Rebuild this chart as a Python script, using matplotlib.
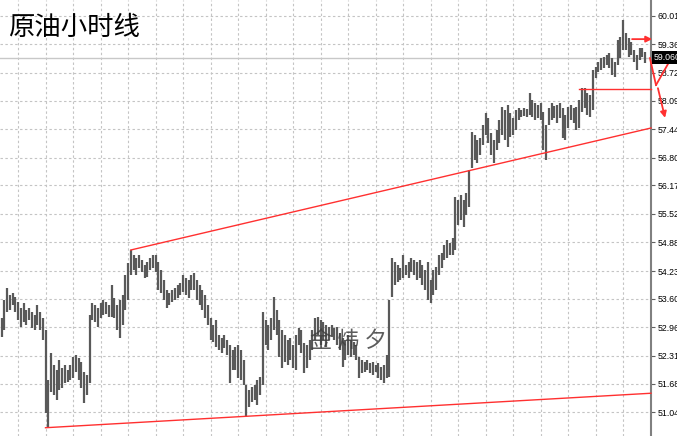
import matplotlib
matplotlib.use("Agg")
import matplotlib.pyplot as plt
import matplotlib.transforms as mtransforms

# ---------------- data (hourly crude oil bars) ----------------
HIGH = [53.17, 53.58, 53.85, 53.69, 53.74, 53.65, 53.54, 53.40, 53.51, 53.35,
        53.40, 53.31, 53.24, 53.47, 53.31, 53.17, 52.90, 51.77, 52.38, 52.11,
        52.00, 52.22, 52.04, 52.11, 52.00, 52.11, 52.29, 52.34, 52.27, 52.18,
        51.95, 51.88, 53.24, 53.51, 53.47, 53.40, 53.51, 53.58, 53.54, 53.47,
        53.92, 53.63, 53.47, 53.58, 53.69, 54.15, 54.42, 54.71, 54.60, 54.53,
        54.60, 54.49, 54.37, 54.44, 54.53, 54.60, 54.60, 54.44, 54.26, 54.03,
        53.81, 53.74, 53.81, 53.85, 53.92, 53.97, 54.15, 54.08, 54.03, 54.15,
        54.19, 54.03, 53.92, 53.81, 53.69, 53.47, 53.17, 53.01, 53.13, 52.79,
        52.72, 52.79, 52.68, 52.56, 52.45, 52.52, 52.56, 52.45, 52.22, 51.66,
        51.54, 51.61, 51.66, 51.77, 51.84, 53.31, 53.13, 53.01, 53.17, 53.65,
        53.35, 53.13, 52.90, 52.79, 52.68, 52.72, 52.56, 52.79, 52.95, 52.90,
        52.61, 52.56, 52.68, 52.90, 53.17, 53.20, 53.13, 53.08, 53.01, 52.97,
        53.01, 52.95, 52.97, 52.83, 52.72, 52.68, 52.79, 52.68, 52.63, 52.56,
        52.29, 52.22, 52.18, 52.22, 52.16, 52.18, 52.11, 52.16, 52.06, 52.11,
        52.34, 53.58, 54.53, 54.44, 54.37, 54.30, 54.60, 54.37, 54.44, 54.53,
        54.49, 54.44, 54.49, 54.37, 54.26, 54.44, 54.03, 54.26, 54.33, 54.60,
        54.64, 54.82, 54.94, 54.87, 54.98, 55.91, 55.84, 55.96, 55.84, 56.00,
        56.52, 57.38, 57.31, 57.20, 57.24, 57.54, 57.81, 57.70, 57.36, 57.20,
        57.43, 57.65, 57.95, 57.88, 57.99, 57.81, 57.70, 57.88, 57.92, 57.88,
        57.92, 57.90, 58.26, 58.10, 58.04, 57.99, 58.04, 57.83, 57.54, 57.92,
        58.04, 57.97, 57.99, 58.04, 57.92, 57.77, 57.95, 57.99, 57.92, 57.95,
        58.10, 58.38, 58.38, 58.26, 58.22, 58.78, 58.85, 58.96, 59.05, 59.08,
        59.12, 59.17, 59.05, 58.96, 59.46, 59.53, 59.91, 59.62, 59.51, 59.42,
        59.24, 59.12, 59.28, 59.28, 59.19]

LOW = [52.74, 52.90, 53.31, 53.35, 53.47, 53.31, 53.13, 52.97, 53.08, 53.01,
       53.13, 52.95, 52.90, 53.01, 52.90, 52.68, 51.02, 50.69, 51.50, 51.43,
       51.32, 51.54, 51.59, 51.70, 51.73, 51.77, 51.82, 51.95, 51.77, 51.59,
       51.25, 51.43, 51.70, 53.13, 53.08, 52.97, 53.17, 53.24, 53.26, 53.20,
       53.20, 53.17, 52.90, 52.72, 53.01, 53.35, 53.58, 54.15, 54.26, 54.15,
       54.30, 54.21, 54.08, 54.10, 54.26, 54.30, 54.21, 53.81, 53.74, 53.58,
       53.40, 53.47, 53.54, 53.58, 53.63, 53.69, 53.76, 53.69, 53.63, 53.81,
       53.81, 53.58, 53.47, 53.35, 53.17, 53.01, 52.68, 52.63, 52.52, 52.45,
       52.38, 52.49, 52.34, 51.70, 52.00, 52.00, 51.82, 51.77, 51.66, 50.93,
       51.16, 51.27, 51.32, 51.21, 51.43, 51.66, 52.56, 52.45, 52.68, 52.90,
       52.79, 52.29, 52.04, 52.18, 52.11, 52.22, 52.04, 52.00, 52.56, 52.38,
       51.93, 52.04, 52.22, 52.45, 52.68, 52.79, 52.56, 52.68, 52.52, 52.68,
       52.74, 52.68, 52.56, 52.45, 52.06, 52.22, 52.34, 52.29, 52.34, 52.22,
       51.82, 51.93, 51.95, 52.00, 51.93, 51.88, 51.95, 51.82, 51.77, 51.70,
       51.82, 51.84, 53.65, 53.92, 53.99, 54.03, 54.08, 54.15, 54.08, 54.21,
       54.15, 54.03, 54.08, 53.92, 53.81, 53.58, 53.51, 53.69, 53.81, 54.15,
       54.30, 54.49, 54.53, 54.60, 54.60, 54.71, 55.28, 55.39, 55.23, 55.50,
       55.68, 56.57, 56.75, 56.68, 56.86, 57.09, 57.31, 57.13, 56.86, 56.68,
       56.97, 57.13, 57.31, 57.20, 57.04, 57.27, 57.31, 57.43, 57.65, 57.72,
       57.74, 57.72, 57.77, 57.72, 57.65, 57.70, 57.65, 56.97, 56.75, 57.54,
       57.65, 57.70, 57.58, 57.70, 57.24, 57.20, 57.47, 57.65, 57.58, 57.43,
       57.47, 57.83, 57.92, 57.77, 57.72, 57.88, 58.60, 58.74, 58.78, 58.83,
       58.90, 58.83, 58.67, 58.62, 58.90, 59.05, 59.24, 59.24, 59.08, 59.12,
       58.96, 58.78, 59.01, 59.08, 58.94]

PRICE_TICKS = ["60.010", "59.365", "58.720", "58.090", "57.445", "56.800",
               "56.170", "55.525", "54.880", "54.235", "53.605", "52.960",
               "52.315", "51.685", "51.040"]
CURRENT_PRICE = 59.06
CURRENT_LABEL = "59.060"

# trend lines / levels: (bar index, price)
TREND_UPPER = [(47, 54.71), (236.2, 57.47)]
TREND_LOWER = [(16, 50.69), (236.2, 51.47)]
LEVEL_LINE = [(210, 58.35), (236.2, 58.35)]
# annotation arrows: (start, end) in (bar index, price)
ARROWS = [((229.3, 59.48), (236.6, 59.48)),
          ((238.0, 58.44), (244.2, 59.12)),
          ((238.7, 58.37), (241.3, 57.70))]
ARROW_STEM = [(235.8, 59.05), (238.0, 58.44)]

TITLE = "原油小时线"
WATERMARK = "金 炜 夕"

# ---------------- figure ----------------
W, H, DPI = 677, 436, 100
fig = plt.figure(figsize=(W / DPI, H / DPI), dpi=DPI, facecolor="white")
ax = fig.add_axes([0, 0, 651 / W, 1])
ax.set_facecolor("white")

n = len(HIGH)
idx = list(range(n))
px = 2.75  # pixels per bar
ax.set_xlim(-1.5 / px, (651 - 1.5) / px)
ppx = 0.02262  # price per pixel
top_price = 60.010 + 15.7 * ppx
ax.set_ylim(top_price - H * ppx, top_price)

grid_kw = dict(color="#c4c4c4", lw=0.8, ls=(0, (2.2, 2.2)), zorder=0)
tick_vals = [float(t) for t in PRICE_TICKS]
for v in tick_vals:
    ax.axhline(v, **grid_kw)
for g in range(6, n, 10):
    ax.axvline(g, **grid_kw)

# current price line
ax.axhline(CURRENT_PRICE, color="#c8c8c8", lw=1.0, zorder=1)

# bars
ax.vlines(idx, LOW, HIGH, color="#595959", lw=1.6, zorder=3)

red = "#ff3030"
for line in (TREND_UPPER, TREND_LOWER, LEVEL_LINE):
    ax.plot([p[0] for p in line], [p[1] for p in line], color=red, lw=1.0,
            zorder=4, clip_on=False)

ax.plot([p[0] for p in ARROW_STEM], [p[1] for p in ARROW_STEM], color=red,
        lw=1.3, zorder=6, clip_on=False)
for (s, e) in ARROWS:
    ax.annotate("", xy=e, xytext=s,
                arrowprops=dict(arrowstyle="-|>", color=red, lw=1.3,
                                mutation_scale=9, shrinkA=0, shrinkB=0),
                annotation_clip=False, zorder=6)

# axes styling
for s in ("left", "top", "bottom"):
    ax.spines[s].set_visible(False)
ax.spines["right"].set_color("#808080")
ax.spines["right"].set_linewidth(1.5)
ax.set_xticks([])
ax.yaxis.tick_right()
ax.set_yticks(tick_vals)
ax.set_yticklabels(PRICE_TICKS, family="Liberation Sans")
ax.tick_params(axis="y", length=3, width=0.8, color="#606060",
               labelsize=6.3, pad=1.5, labelcolor="black")

# current price box
trans = mtransforms.blended_transform_factory(ax.transAxes, ax.transData)
ax.text(1.004, CURRENT_PRICE, CURRENT_LABEL, transform=trans, fontsize=6.3,
        family="Liberation Sans", color="white", va="center", ha="left",
        bbox=dict(facecolor="black", edgecolor="none", pad=1.3), zorder=10,
        clip_on=False)

# title and watermark
cjk = ["Noto Sans CJK SC", "DejaVu Sans"]
fig.text(8 / W, 1 - 27 / H, TITLE, family=cjk, fontsize=19, color="black",
         fontweight="light", va="center", ha="left")
ax.text(0.535, 0.22, WATERMARK, transform=ax.transAxes, family=cjk,
        fontsize=16, color="#404040", alpha=0.85, va="center", ha="center",
        fontweight="light", zorder=8)

fig.savefig("out.png", dpi=DPI, facecolor="white")
